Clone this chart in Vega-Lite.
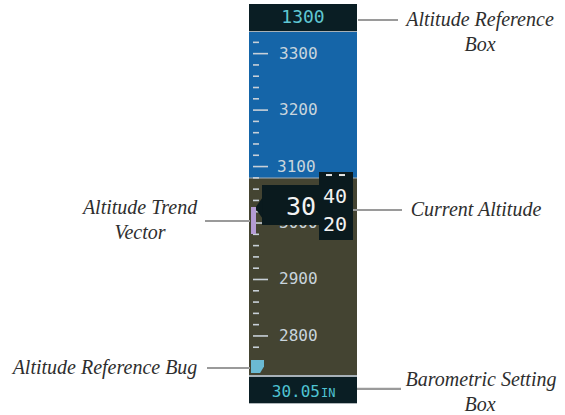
{
  "$schema": "https://vega.github.io/schema/vega-lite/v6.json",
  "width": 565,
  "height": 415,
  "padding": 0,
  "autosize": {"type": "none"},
  "background": "white",
  "config": {"view": {"stroke": null}},
  "datasets": {
    "panels": [
      {"part": "Frame", "x": 249, "x2": 357, "y": 3388, "y2": 2681},
      {"part": "Reference box", "x": 249, "x2": 357, "y": 3388, "y2": 3340},
      {"part": "Sky", "x": 249, "x2": 357, "y": 3338.4, "y2": 3080.6},
      {"part": "Ground", "x": 249, "x2": 357, "y": 3079, "y2": 2730.9},
      {"part": "Barometric box", "x": 249, "x2": 357, "y": 2727.3, "y2": 2681}
    ],
    "ticks": [
      {"x": 253, "x2": 259, "y": 2780}, {"x": 253, "x2": 268, "y": 2800},
      {"x": 253, "x2": 259, "y": 2820}, {"x": 253, "x2": 259, "y": 2840},
      {"x": 253, "x2": 259, "y": 2860}, {"x": 253, "x2": 259, "y": 2880},
      {"x": 253, "x2": 268, "y": 2900},
      {"x": 253, "x2": 259, "y": 2920}, {"x": 253, "x2": 259, "y": 2940},
      {"x": 253, "x2": 259, "y": 2960}, {"x": 253, "x2": 259, "y": 2980},
      {"x": 253, "x2": 268, "y": 3000},
      {"x": 253, "x2": 259, "y": 3020}, {"x": 253, "x2": 259, "y": 3040},
      {"x": 253, "x2": 259, "y": 3060}, {"x": 253, "x2": 259, "y": 3080},
      {"x": 253, "x2": 268, "y": 3100},
      {"x": 253, "x2": 259, "y": 3120}, {"x": 253, "x2": 259, "y": 3140},
      {"x": 253, "x2": 259, "y": 3160}, {"x": 253, "x2": 259, "y": 3180},
      {"x": 253, "x2": 268, "y": 3200},
      {"x": 253, "x2": 259, "y": 3220}, {"x": 253, "x2": 259, "y": 3240},
      {"x": 253, "x2": 259, "y": 3260}, {"x": 253, "x2": 259, "y": 3280},
      {"x": 253, "x2": 268, "y": 3300},
      {"x": 253, "x2": 259, "y": 3320}
    ],
    "tapeLabels": [
      {"x": 279, "y": 3300, "label": "3300"},
      {"x": 279, "y": 3200, "label": "3200"},
      {"x": 277, "y": 3100, "label": "3100"},
      {"x": 279, "y": 3000, "label": "3000"},
      {"x": 279, "y": 2900, "label": "2900"},
      {"x": 279, "y": 2800, "label": "2800"}
    ],
    "foreground": [
      {"part": "Pointer", "x": 262, "x2": 320, "y": 3067.4, "y2": 2996.5},
      {"part": "Window", "x": 319, "x2": 353, "y": 3090.4, "y2": 2969.9}
    ],
    "pointerTip": [{"part": "Pointer", "x": 259, "y": 3026.6}],
    "trend": [{"part": "Trend", "x": 251, "x2": 256, "y": 3028.4, "y2": 2980.6}],
    "bug": [{"part": "Bug", "x": 257.5, "y": 2745.9}],
    "dashes": [
      {"x": 326, "x2": 332, "y": 3085},
      {"x": 339, "x2": 345, "y": 3085}
    ],
    "bigDigits": [{"x": 301, "y": 3028.4, "label": "30"}],
    "rollDigits": [
      {"x": 335, "y": 3046.1, "label": "40"},
      {"x": 335, "y": 2996.5, "label": "20"}
    ],
    "refValue": [{"x": 303, "y": 3363.1, "label": "1300"}],
    "baroValue": [{"x": 320, "y": 2691.9, "label": "30.05"}],
    "baroUnit": [{"x": 321, "y": 2691.9, "label": "IN"}],
    "leaders": [
      {"x": 358, "x2": 398, "y": 3359.6},
      {"x": 353, "x2": 402, "y": 3023.1},
      {"x": 357, "x2": 401, "y": 2706.1},
      {"x": 205, "x2": 250, "y": 3003.6},
      {"x": 207, "x2": 250, "y": 2743.2}
    ],
    "callouts": [
      {"x": 480, "y": 3359.6, "label": "Altitude Reference"},
      {"x": 480, "y": 3315.3, "label": "Box"},
      {"x": 476, "y": 3023.1, "label": "Current Altitude"},
      {"x": 481, "y": 2722.0, "label": "Barometric Setting"},
      {"x": 480, "y": 2677.7, "label": "Box"},
      {"x": 140, "y": 3026.6, "label": "Altitude Trend"},
      {"x": 140, "y": 2982.3, "label": "Vector"},
      {"x": 105, "y": 2743.2, "label": "Altitude Reference Bug"}
    ]
  },
  "encoding": {
    "x": {"field": "x", "type": "quantitative", "scale": {"domain": [0, 565], "nice": false, "zero": false}, "axis": null},
    "y": {"field": "y", "type": "quantitative", "scale": {"domain": [2660, 3395], "nice": false, "zero": false}, "axis": null}
  },
  "layer": [
    {
      "data": {"name": "panels"},
      "mark": {"type": "rect"},
      "encoding": {
        "x2": {"field": "x2"},
        "y2": {"field": "y2"},
        "color": {
          "field": "part", "type": "nominal", "legend": null,
          "scale": {
            "domain": ["Frame", "Reference box", "Sky", "Ground", "Barometric box", "Pointer", "Window", "Trend", "Bug"],
            "range": ["#a7b1b8", "#0a1e24", "#1565a8", "#444432", "#0a1e24", "#0a1a1e", "#0a1a1e", "#b49bd4", "#6bbad3"]
          }
        }
      }
    },
    {
      "data": {"name": "ticks"},
      "mark": {"type": "rule", "color": "#c8d0d8", "strokeWidth": 1.6},
      "encoding": {"x2": {"field": "x2"}}
    },
    {
      "data": {"name": "tapeLabels"},
      "mark": {"type": "text", "align": "left", "baseline": "middle", "font": "DejaVu Sans Mono", "fontSize": 16, "color": "#c9d5dd"},
      "encoding": {"text": {"field": "label"}}
    },
    {
      "data": {"name": "foreground"},
      "mark": {"type": "rect"},
      "encoding": {
        "x2": {"field": "x2"},
        "y2": {"field": "y2"},
        "color": {"field": "part", "type": "nominal", "legend": null}
      }
    },
    {
      "data": {"name": "pointerTip"},
      "mark": {"type": "point", "filled": true, "opacity": 1, "strokeWidth": 0, "size": 484, "shape": "M -0.36 0 L 0.36 -1 L 0.36 1 Z"},
      "encoding": {"color": {"field": "part", "type": "nominal", "legend": null}}
    },
    {
      "data": {"name": "trend"},
      "mark": {"type": "rect"},
      "encoding": {
        "x2": {"field": "x2"},
        "y2": {"field": "y2"},
        "color": {"field": "part", "type": "nominal", "legend": null}
      }
    },
    {
      "data": {"name": "bug"},
      "mark": {"type": "point", "filled": true, "opacity": 1, "strokeWidth": 0, "size": 169, "shape": "M -1 -1 L 1 -1 L 1 0 L 0.4 1 L -1 1 Z"},
      "encoding": {"color": {"field": "part", "type": "nominal", "legend": null}}
    },
    {
      "data": {"name": "dashes"},
      "mark": {"type": "rule", "color": "#e6e6e6", "strokeWidth": 2},
      "encoding": {"x2": {"field": "x2"}}
    },
    {
      "data": {"name": "bigDigits"},
      "mark": {"type": "text", "align": "center", "baseline": "middle", "font": "DejaVu Sans Mono", "fontSize": 25, "color": "#f2f2f2"},
      "encoding": {"text": {"field": "label"}}
    },
    {
      "data": {"name": "rollDigits"},
      "mark": {"type": "text", "align": "center", "baseline": "middle", "font": "DejaVu Sans Mono", "fontSize": 20, "color": "#f2f2f2"},
      "encoding": {"text": {"field": "label"}}
    },
    {
      "data": {"name": "refValue"},
      "mark": {"type": "text", "align": "center", "baseline": "middle", "font": "DejaVu Sans Mono", "fontSize": 18, "color": "#5fc7d3"},
      "encoding": {"text": {"field": "label"}}
    },
    {
      "data": {"name": "baroValue"},
      "mark": {"type": "text", "align": "right", "baseline": "alphabetic", "font": "DejaVu Sans Mono", "fontSize": 16, "color": "#4fc3d3"},
      "encoding": {"text": {"field": "label"}}
    },
    {
      "data": {"name": "baroUnit"},
      "mark": {"type": "text", "align": "left", "baseline": "alphabetic", "font": "DejaVu Sans Mono", "fontSize": 12, "color": "#4fc3d3"},
      "encoding": {"text": {"field": "label"}}
    },
    {
      "data": {"name": "leaders"},
      "mark": {"type": "rule", "color": "#9a9a9a", "strokeWidth": 2.2},
      "encoding": {"x2": {"field": "x2"}}
    },
    {
      "data": {"name": "callouts"},
      "mark": {"type": "text", "align": "center", "baseline": "middle", "font": "Liberation Serif", "fontStyle": "italic", "fontSize": 20, "color": "#2e2e2e"},
      "encoding": {"text": {"field": "label"}}
    }
  ]
}
